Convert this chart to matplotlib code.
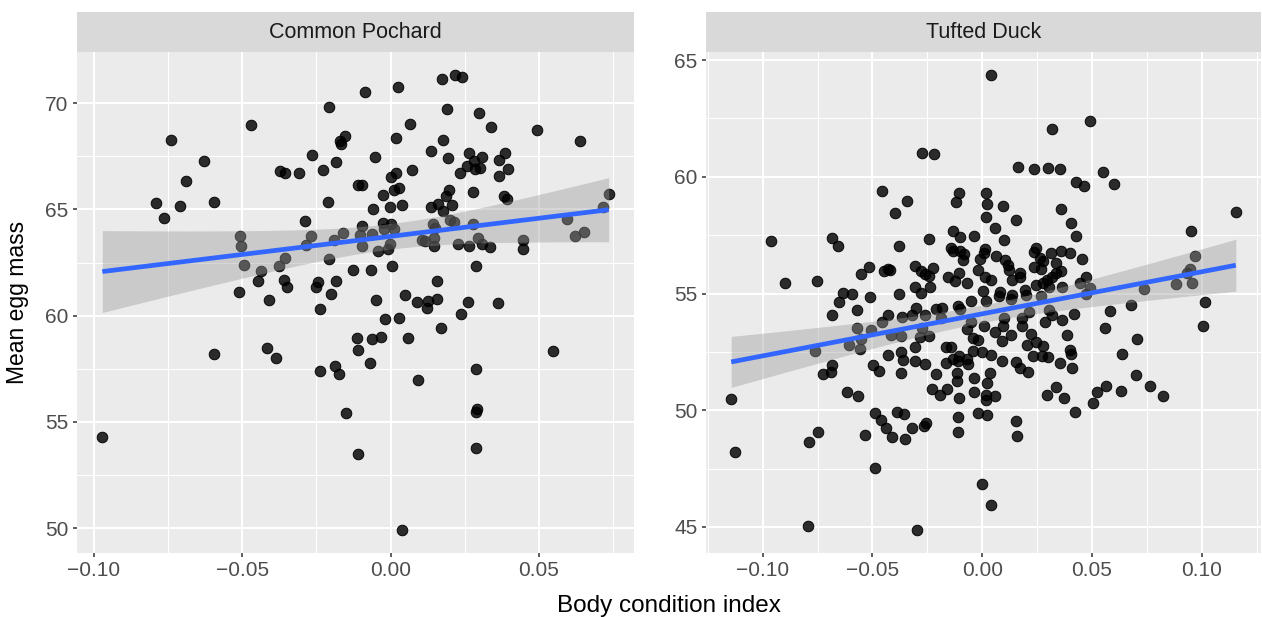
import numpy as np
import matplotlib
matplotlib.use("Agg")
import matplotlib.pyplot as plt

plt.rcParams['font.family'] = ['Liberation Sans', 'DejaVu Sans']

# ---------------- data ----------------
species = ["Common Pochard", "Tufted Duck"]
x_label = "Body condition index"
y_label = "Mean egg mass"

pochard_xticks = [-0.10, -0.05, 0.00, 0.05]
pochard_yticks = [50, 55, 60, 65, 70]
tufted_xticks = [-0.10, -0.05, 0.00, 0.05, 0.10]
tufted_yticks = [45, 50, 55, 60, 65]

pochard_x = [
    -0.0739, -0.0471, -0.0208, -0.0152, -0.0170, -0.0167, -0.0630, -0.0263, -0.0184, -0.0226,
    -0.0372, -0.0355, -0.0309, -0.0688, -0.0789, -0.0709, -0.0596, -0.0763, -0.0212, -0.0289,
    -0.0507, -0.0504, -0.0269, -0.0284, -0.0189, -0.0159, -0.0494, -0.0436, -0.0376, -0.0357,
    -0.0208, -0.0446, -0.0359, -0.0350, -0.0246, -0.0252, -0.0184, -0.0127, -0.0201, -0.0511,
    -0.0409, -0.0111, -0.0087, 0.0024, 0.0172, 0.0216, 0.0242, 0.0190, 0.0298, 0.0337,
    0.0492, 0.0638, 0.0065, 0.0020, 0.0178, 0.0135, 0.0195, -0.0051, 0.0263, 0.0308,
    0.0282, 0.0258, 0.0285, 0.0303, 0.0385, 0.0366, 0.0396, 0.0366, 0.0235, 0.0073,
    0.0001, 0.0020, -0.0096, 0.0028, 0.0012, -0.0024, 0.0196, 0.0187, 0.0278, 0.0382,
    0.0393, -0.0058, -0.0001, 0.0037, 0.0135, 0.0161, 0.0207, 0.0178, 0.0735, 0.0717,
    0.0200, 0.0215, -0.0095, -0.0026, 0.0001, 0.0013, -0.0023, 0.0143, 0.0151, 0.0278,
    0.0596, -0.0102, -0.0061, -0.0097, -0.0010, -0.0002, -0.0041, 0.0105, 0.0148, 0.0115,
    0.0148, 0.0226, 0.0263, 0.0294, 0.0308, 0.0336, 0.0446, 0.0446, 0.0621, 0.0651,
    0.0006, 0.0288, -0.0067, 0.0157, 0.0050, -0.0050, 0.0090, 0.0127, 0.0157, 0.0261,
    0.0363, -0.0236, -0.0595, -0.0415, -0.0386, -0.0238, -0.0186, -0.0172, -0.0150, -0.0971,
    -0.0114, -0.0111, -0.0111, 0.0124, 0.0238, -0.0019, 0.0029, 0.0169, -0.0061, -0.0031,
    0.0059, -0.0070, 0.0549, 0.0289, 0.0091, 0.0291, 0.0288, 0.0288, 0.0040,
]
pochard_y = [
    68.27, 68.98, 69.81, 68.45, 68.20, 68.09, 67.27, 67.54, 67.24, 66.86,
    66.81, 66.72, 66.72, 66.32, 65.28, 65.15, 65.34, 64.60, 65.34, 64.45,
    63.77, 63.26, 63.77, 63.33, 63.57, 63.88, 62.39, 62.11, 62.34, 62.71,
    62.67, 61.61, 61.70, 61.37, 61.58, 61.33, 61.64, 62.16, 61.03, 61.11,
    60.76, 66.16, 70.50, 70.77, 71.12, 71.33, 71.21, 69.70, 69.53, 68.87,
    68.73, 68.23, 69.03, 68.34, 68.24, 67.73, 67.43, 67.47, 67.63, 67.46,
    67.27, 67.02, 66.91, 66.93, 67.63, 67.30, 66.88, 66.55, 66.69, 66.83,
    66.53, 66.71, 66.13, 66.00, 65.89, 65.68, 65.91, 65.62, 65.83, 65.64,
    65.47, 65.01, 65.09, 65.20, 65.09, 65.23, 65.20, 64.92, 65.73, 65.12,
    64.51, 64.41, 64.23, 64.37, 64.32, 64.08, 64.08, 64.31, 64.13, 64.31,
    64.56, 63.80, 63.82, 63.30, 63.14, 63.38, 63.04, 63.57, 63.66, 63.49,
    63.26, 63.38, 63.30, 63.66, 63.38, 63.24, 63.54, 63.14, 63.76, 63.92,
    62.36, 62.34, 62.13, 61.61, 60.95, 60.76, 60.64, 60.68, 60.79, 60.64,
    60.60, 60.31, 58.19, 58.50, 58.03, 57.42, 57.62, 57.28, 55.44, 54.30,
    58.93, 58.38, 53.48, 60.34, 60.07, 59.84, 59.87, 59.40, 58.88, 58.99,
    58.93, 57.76, 58.34, 57.47, 56.96, 55.63, 55.47, 53.80, 49.91,
]

tufted_x = [
    -0.0458, -0.0961, -0.0682, -0.0655, -0.0514, -0.0551, -0.0449, -0.0431, -0.0896, -0.0751,
    -0.0635, -0.0593, -0.0511, 0.0039, 0.0318, -0.0275, -0.0220, 0.0162, 0.0234, 0.0299,
    0.0353, 0.0427, -0.0107, -0.0118, 0.0019, 0.0021, 0.0094, 0.0019, 0.0152, -0.0341,
    -0.0395, 0.0361, 0.0406, 0.0427, -0.0133, -0.0101, -0.0038, 0.0059, 0.0098, -0.0241,
    -0.0380, -0.0140, -0.0134, -0.0101, -0.0081, -0.0086, 0.0014, 0.0010, -0.0012, 0.0065,
    0.0105, 0.0118, 0.0122, 0.0243, 0.0234, 0.0262, 0.0277, 0.0238, 0.0266, 0.0312,
    0.0359, 0.0401, 0.0338, 0.0361, 0.0338, 0.0318, 0.0295, -0.0421, -0.0308, -0.0277,
    -0.0225, -0.0262, -0.0240, -0.0154, -0.0107, -0.0122, -0.0071, -0.0017, 0.0014, 0.0042,
    0.0134, 0.0172, 0.0172, 0.0243, 0.0277, 0.0303, 0.0363, -0.0305, -0.0238, -0.0277,
    -0.0380, 0.0005, 0.0081, 0.0195, 0.0198, 0.0137, 0.0493, 0.0552, 0.0599, 0.0462,
    0.1155, 0.0953, 0.0454, 0.0472, 0.0445, 0.0493, 0.0970, 0.0946, 0.0931, 0.0882,
    0.0955, 0.0739, -0.0650, -0.0572, -0.0686, -0.0458, -0.0431, -0.0572, -0.0505, -0.0552,
    -0.0605, -0.0555, -0.0762, -0.0431, -0.0416, -0.0682, -0.0688, -0.0723, -0.0499, -0.0471,
    -0.0614, -0.0567, -0.1143, -0.0487, -0.0462, -0.0439, -0.0412, -0.0748, -0.0791, -0.0535,
    -0.1125, -0.0490, -0.0795, -0.0303, -0.0363, -0.0318, -0.0262, -0.0210, -0.0184, -0.0112,
    -0.0101, -0.0051, 0.0017, 0.0077, 0.0130, 0.0270, 0.0303, 0.0318, 0.0363, 0.0288,
    0.0416, 0.0213, 0.0180, 0.0180, 0.0101, 0.0096, 0.0009, -0.0051, -0.0071, -0.0187,
    -0.0273, -0.0368, -0.0285, -0.0240, 0.0059, 0.0092, 0.0130, -0.0044, -0.0021, 0.0223,
    0.0243, 0.0205, 0.0276, 0.0386, 0.0401, 0.0404, -0.0308, -0.0167, -0.0142, -0.0368,
    -0.0361, -0.0308, -0.0259, -0.0167, -0.0134, -0.0104, -0.0112, -0.0067, -0.0063, -0.0044,
    -0.0001, 0.0039, 0.0089, 0.0152, 0.0172, 0.0210, 0.0232, 0.0273, 0.0300, 0.0353,
    0.0409, -0.0372, -0.0210, -0.0113, -0.0114, -0.0035, 0.0036, 0.0021, -0.0228, -0.0191,
    -0.0160, -0.0036, -0.0104, 0.0019, 0.0017, 0.0059, 0.0338, 0.0295, 0.0374, 0.0424,
    -0.0388, -0.0357, -0.0112, -0.0021, 0.0024, 0.0152, 0.0157, -0.0109, -0.0258, -0.0266,
    -0.0321, -0.0353, 0.0001, 0.0042, -0.0297, 0.0475, 0.0584, 0.0679, 0.0558, 0.0705,
    0.0637, 0.0701, 0.0564, 0.0524, 0.0632, 0.0765, 0.0825, 0.0505, 0.1014, 0.1008,
]
tufted_y = [
    59.39, 57.27, 57.37, 57.02, 56.14, 55.82, 55.96, 56.03, 55.43, 55.52,
    55.04, 54.96, 54.85, 64.37, 62.03, 61.03, 60.98, 60.43, 60.34, 60.38,
    60.32, 59.76, 59.29, 58.90, 59.30, 58.82, 58.76, 58.27, 58.14, 58.96,
    58.43, 58.61, 58.01, 57.46, 57.67, 57.40, 57.46, 57.80, 57.29, 57.33,
    57.04, 56.96, 56.80, 56.83, 56.69, 56.43, 56.89, 56.74, 56.47, 56.60,
    56.43, 56.21, 56.00, 56.97, 56.78, 56.50, 56.40, 56.14, 56.03, 56.72,
    56.84, 56.72, 56.31, 55.97, 55.86, 55.69, 55.60, 56.00, 56.17, 55.97,
    56.10, 55.82, 55.76, 55.69, 55.90, 55.54, 55.47, 56.00, 55.69, 55.57,
    55.60, 55.90, 55.71, 55.36, 55.43, 55.26, 55.28, 55.28, 55.26, 55.04,
    54.97, 55.11, 55.07, 55.14, 54.93, 54.93, 62.39, 60.19, 59.67, 59.60,
    58.49, 57.67, 56.46, 55.69, 55.47, 55.24, 56.61, 56.07, 55.86, 55.40,
    55.47, 55.19, 54.62, 54.31, 54.10, 53.76, 54.08, 53.54, 53.43, 53.07,
    52.78, 52.64, 52.54, 52.36, 53.23, 51.93, 51.64, 51.57, 51.93, 51.68,
    50.80, 50.61, 50.46, 49.88, 49.57, 49.24, 48.87, 49.06, 48.66, 48.96,
    48.19, 47.53, 45.04, 54.40, 54.00, 54.08, 54.08, 54.33, 54.37, 54.47,
    54.33, 54.66, 54.66, 54.90, 54.76, 54.90, 54.28, 54.08, 53.86, 53.76,
    54.11, 54.19, 53.97, 53.59, 53.97, 53.61, 53.59, 53.80, 53.47, 53.94,
    53.54, 53.18, 53.14, 53.18, 53.37, 52.97, 53.23, 53.11, 53.01, 53.26,
    52.94, 52.80, 52.75, 53.23, 52.57, 52.43, 52.73, 52.73, 52.69, 52.51,
    52.14, 52.09, 51.97, 52.04, 52.18, 52.33, 52.11, 52.18, 52.00, 52.54,
    52.51, 52.37, 52.11, 52.07, 51.80, 51.63, 52.33, 52.33, 52.28, 52.01,
    51.79, 51.58, 51.57, 51.61, 51.25, 51.36, 51.61, 51.16, 50.93, 50.65,
    50.91, 50.78, 50.54, 50.65, 50.43, 50.61, 51.00, 50.64, 50.51, 49.94,
    49.94, 49.83, 49.69, 49.87, 49.80, 49.54, 48.90, 49.07, 49.47, 49.33,
    49.26, 48.76, 46.86, 45.94, 44.86, 54.97, 54.26, 54.50, 53.54, 53.07,
    52.43, 51.51, 51.04, 50.80, 50.83, 51.03, 50.59, 50.33, 54.62, 53.59,
]

# ---------------- styling ----------------
FIG_W, FIG_H = 1262, 617
PANEL_BG = '#EBEBEB'
STRIP_BG = '#D9D9D9'
GRID = 'white'
TICK_COLOR = '#333333'
TICKLABEL_COLOR = '#4D4D4D'

fig = plt.figure(figsize=(FIG_W / 100, FIG_H / 100), dpi=100)

panel_top, panel_bot = 52, 553
strip_top = 12
panels = [(77, 634), (706, 1261)]


def expand(lo, hi, f=0.05):
    r = hi - lo
    return lo - f * r, hi + f * r


def draw_panel(px, title, x, y, xticks, yticks):
    x0, x1 = px
    ax = fig.add_axes([x0 / FIG_W, 1 - panel_bot / FIG_H,
                       (x1 - x0) / FIG_W, (panel_bot - panel_top) / FIG_H])
    x = np.asarray(x, float)
    y = np.asarray(y, float)
    ax.set_facecolor(PANEL_BG)
    for s in ax.spines.values():
        s.set_visible(False)

    ax.scatter(x, y, s=58, facecolor=(0, 0, 0, 0.82), edgecolor=(0, 0, 0, 0.95),
               linewidth=0.7, zorder=3)

    # linear model with 95% confidence band (like geom_smooth(method="lm"))
    n = len(x)
    b, a = np.polyfit(x, y, 1)
    xs = np.linspace(x.min(), x.max(), 100)
    yhat = a + b * xs
    resid = y - (a + b * x)
    sig = np.sqrt(np.sum(resid ** 2) / (n - 2))
    sxx = np.sum((x - x.mean()) ** 2)
    se = sig * np.sqrt(1.0 / n + (xs - x.mean()) ** 2 / sxx)
    tq = 1.97
    lo, hi = yhat - tq * se, yhat + tq * se
    ax.fill_between(xs, lo, hi, color='#999999', alpha=0.4, linewidth=0, zorder=4)
    ax.plot(xs, yhat, color='#3366FF', lw=3.4, zorder=5, solid_capstyle='butt')

    ax.set_xlim(*expand(x.min(), x.max()))
    ax.set_ylim(*expand(min(y.min(), lo.min()), max(y.max(), hi.max())))

    ax.set_xticks(xticks)
    ax.set_xticklabels([f"{t:.2f}".replace('-', '\u2212') for t in xticks])
    ax.set_yticks(yticks)
    ax.set_yticklabels([f"{t:d}" for t in yticks])
    step_x = xticks[1] - xticks[0]
    step_y = yticks[1] - yticks[0]
    xmin_ = [xticks[0] - step_x / 2] + [t + step_x / 2 for t in xticks]
    ymin_ = [yticks[0] - step_y / 2] + [t + step_y / 2 for t in yticks]
    xl, yl = ax.get_xlim(), ax.get_ylim()
    ax.set_xticks(xmin_, minor=True)
    ax.set_yticks(ymin_, minor=True)
    ax.set_xlim(*xl)
    ax.set_ylim(*yl)
    ax.set_axisbelow(True)
    ax.grid(which='major', color=GRID, lw=1.5)
    ax.grid(which='minor', color=GRID, lw=0.75)
    ax.tick_params(which='minor', length=0)
    ax.tick_params(which='major', length=3, width=1.1, color=TICK_COLOR,
                   labelcolor=TICKLABEL_COLOR, labelsize=15, pad=3)

    # facet strip
    sax = fig.add_axes([x0 / FIG_W, 1 - panel_top / FIG_H,
                        (x1 - x0) / FIG_W, (panel_top - strip_top) / FIG_H])
    sax.set_facecolor(STRIP_BG)
    sax.set_xticks([])
    sax.set_yticks([])
    for s in sax.spines.values():
        s.set_visible(False)
    sax.text(0.5, 0.5, title, ha='center', va='center', fontsize=15.5,
             color='#1A1A1A', transform=sax.transAxes)
    return ax


draw_panel(panels[0], species[0], pochard_x, pochard_y, pochard_xticks, pochard_yticks)
draw_panel(panels[1], species[1], tufted_x, tufted_y, tufted_xticks, tufted_yticks)

fig.text((77 + 1261) / 2 / FIG_W, 1 - 606 / FIG_H, x_label, ha='center', va='center',
         fontsize=17.5, color='black')
fig.text(18 / FIG_W, 1 - (panel_top + panel_bot) / 2 / FIG_H, y_label, ha='center',
         va='center', rotation=90, fontsize=16.5, color='black')

fig.savefig('out.png', dpi=100)
